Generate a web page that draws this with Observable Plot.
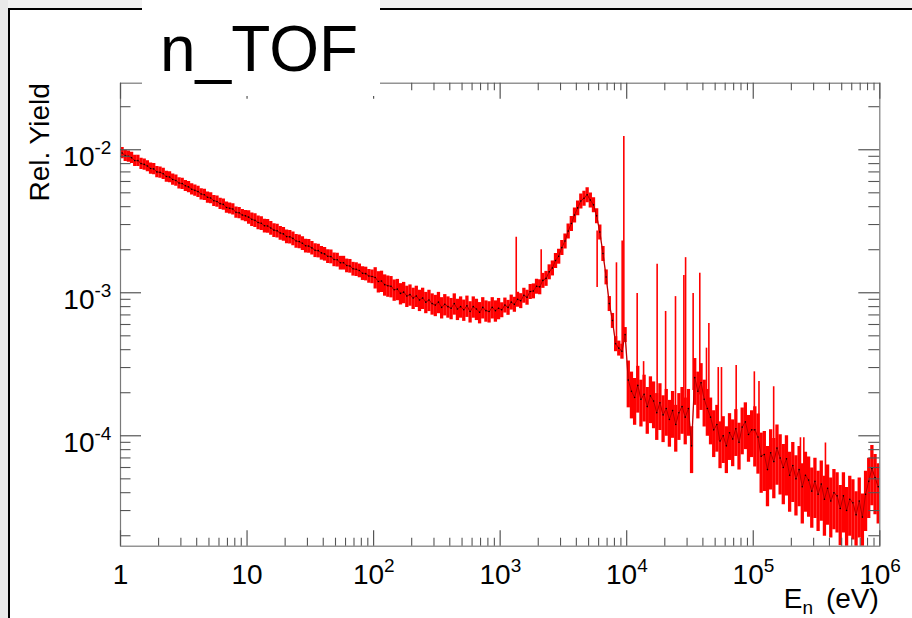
<!DOCTYPE html>
<html>
<head>
<meta charset="utf-8">
<script src="https://cdn.jsdelivr.net/npm/d3@7"></script>
<script src="https://cdn.jsdelivr.net/npm/@observablehq/plot@0.6"></script>
<style>
  html, body { margin: 0; padding: 0; background: #fff; }
  #wrap { position: relative; width: 912px; height: 618px; overflow: hidden; background: #fff;
          font-family: "Liberation Sans", Arial, Helvetica, sans-serif; }
  #topStrip { position: absolute; left: 0; top: 0; width: 912px; height: 8px; background: #f2f2f2; }
  #leftStrip { position: absolute; left: 0; top: 0; width: 8px; height: 618px; background: #e9e9e9; }
  #topLine { position: absolute; left: 8px; top: 8px; width: 904px; height: 2px; background: #000; }
  #leftLine { position: absolute; left: 8px; top: 8px; width: 2px; height: 610px; background: #000; }
  #chart { position: absolute; left: 0; top: 0; }
  #title { position: absolute; left: 0; top: 0; }
</style>
</head>
<body>
<div id="wrap">
  <div id="topStrip"></div>
  <div id="leftStrip"></div>
  <div id="topLine"></div>
  <div id="leftLine"></div>
  <div id="chart"></div>
  <div id="title"></div>
</div>
<script>
// ---- histogram binning: 40 log-uniform bins per decade, 1 eV .. 1 MeV ----
const binsPerDecade = 40;

// Relative yield per bin, one array per decade
const yieldDec0 = [9.5e-3, 9.1e-3, 9.0e-3, 8.8e-3, 8.4e-3, 8.4e-3, 8.0e-3, 7.9e-3, 7.7e-3, 7.4e-3,
  7.35e-3, 7.0e-3, 6.95e-3, 6.8e-3, 6.5e-3, 6.45e-3, 6.2e-3, 6.1e-3, 5.85e-3, 5.8e-3,
  5.6e-3, 5.5e-3, 5.3e-3, 5.2e-3, 5.1e-3, 4.9e-3, 4.85e-3, 4.65e-3, 4.6e-3, 4.4e-3,
  4.35e-3, 4.2e-3, 4.15e-3, 3.95e-3, 3.9e-3, 3.85e-3, 3.65e-3, 3.62e-3, 3.5e-3, 3.45e-3];
const yieldDec1 = [3.38e-3, 3.26e-3, 3.21e-3, 3.10e-3, 3.06e-3, 2.94e-3, 2.93e-3, 2.84e-3, 2.74e-3, 2.71e-3,
  2.62e-3, 2.58e-3, 2.47e-3, 2.46e-3, 2.40e-3, 2.30e-3, 2.28e-3, 2.22e-3, 2.13e-3, 2.12e-3,
  2.06e-3, 1.98e-3, 1.97e-3, 1.90e-3, 1.87e-3, 1.80e-3, 1.79e-3, 1.71e-3, 1.70e-3, 1.62e-3,
  1.62e-3, 1.55e-3, 1.54e-3, 1.47e-3, 1.46e-3, 1.43e-3, 1.37e-3, 1.36e-3, 1.31e-3, 1.30e-3];
const yieldDec2 = [1.28e-3, 1.20e-3, 1.21e-3, 1.14e-3, 1.12e-3, 1.11e-3, 1.05e-3, 1.06e-3, 9.9e-4, 1.01e-3,
  9.5e-4, 9.7e-4, 9.2e-4, 9.5e-4, 8.9e-4, 9.2e-4, 8.6e-4, 8.9e-4, 8.4e-4, 8.2e-4,
  8.6e-4, 7.9e-4, 8.3e-4, 8.0e-4, 7.8e-4, 8.4e-4, 7.7e-4, 8.0e-4, 7.6e-4, 8.1e-4,
  7.4e-4, 8.0e-4, 7.7e-4, 7.3e-4, 7.9e-4, 7.5e-4, 7.4e-4, 7.9e-4, 7.5e-4, 7.8e-4];
const yieldDec3 = [7.6e-4, 8.2e-4, 7.9e-4, 8.6e-4, 8.3e-4, 9.0e-4, 8.8e-4, 9.6e-4, 9.3e-4, 1.02e-3,
  1.03e-3, 1.11e-3, 1.10e-3, 1.22e-3, 1.26e-3, 1.40e-3, 1.49e-3, 1.68e-3, 1.80e-3, 2.07e-3,
  2.30e-3, 2.70e-3, 3.05e-3, 3.50e-3, 3.92e-3, 4.38e-3, 4.58e-3, 4.85e-3, 4.45e-3, 4.12e-3,
  3.45e-3, 2.66e-3, 1.88e-3, 1.29e-3, 8.4e-4, 6.4e-4, 4.4e-4, 4.1e-4, 3.9e-4, 5.1e-4];
const yieldDec4 = [2.45e-4, 2.05e-4, 1.85e-4, 2.25e-4, 1.80e-4, 1.95e-4, 1.60e-4, 1.90e-4, 1.75e-4, 1.45e-4,
  1.70e-4, 1.40e-4, 1.55e-4, 1.30e-4, 1.50e-4, 1.20e-4, 1.45e-4, 1.60e-4, 1.35e-4, 1.55e-4,
  8.5e-5, 2.55e-4, 2.05e-4, 2.35e-4, 1.80e-4, 1.55e-4, 1.35e-4, 1.10e-4, 1.20e-4, 9.2e-5,
  1.00e-4, 8.5e-5, 1.05e-4, 9.5e-5, 1.12e-4, 9.0e-5, 1.15e-4, 1.25e-4, 1.02e-4, 1.10e-4];
const yieldDec5 = [1.10e-4, 9.8e-5, 7.2e-5, 7.4e-5, 5.8e-5, 7.6e-5, 6.6e-5, 8.2e-5, 7.0e-5, 6.0e-5,
  6.9e-5, 5.3e-5, 6.2e-5, 5.0e-5, 5.8e-5, 4.4e-5, 5.3e-5, 4.9e-5, 4.1e-5, 4.8e-5,
  3.9e-5, 4.6e-5, 3.6e-5, 4.3e-5, 3.5e-5, 4.0e-5, 3.8e-5, 3.1e-5, 3.8e-5, 3.0e-5,
  3.6e-5, 3.4e-5, 2.8e-5, 3.5e-5, 2.7e-5, 3.9e-5, 4.8e-5, 5.9e-5, 5.1e-5, 4.4e-5];
// relative statistical error per decade
const relErr = [0.09, 0.11, 0.17, 0.12, 0.36, 0.45];

// narrow resonances (energy in eV, yield at foot, yield at tip)
const spikeE    = [1340, 2110, 5840, 8300, 9210, 9490, 12100, 13600, 17400, 20300, 24300, 28300, 29200,
  33500, 37800, 42700, 44600, 52900, 56100, 73300, 102000, 111000, 145000, 236000, 251000, 372000];
const spikeBase = [8.8e-4, 1.16e-3, 2.7e-3, 4.0e-4, 4.3e-4, 4.6e-4, 2.0e-4, 1.8e-4, 1.65e-4, 1.5e-4, 1.37e-4, 1.47e-4, 1.47e-4,
  2.07e-4, 1.93e-4, 1.65e-4, 1.4e-4, 9.2e-5, 9.2e-5, 1.0e-4, 1.04e-4, 8.5e-5, 7.3e-5, 4.9e-5, 4.9e-5, 3.9e-5];
const spikePeak = [2.44e-3, 2.0e-3, 1.09e-3, 1.62e-3, 2.3e-3, 1.24e-2, 9.9e-4, 3.3e-4, 1.58e-3, 7.4e-4, 9.4e-4, 1.32e-3, 1.76e-3,
  9.9e-4, 1.37e-3, 4.1e-4, 6.1e-4, 3.0e-4, 3.0e-4, 3.1e-4, 2.8e-4, 2.4e-4, 2.2e-4, 9.7e-5, 9.7e-5, 8.9e-5];

// axes
const xDomain = [1, 1e6];
const yDomain = [1.69e-5, 2.92e-2];
const xPlainTicks = [1, 10];
const xPlainLabels = ["1", "10"];
const xPowTicks = [1e2, 1e3, 1e4, 1e5, 1e6];
const xPowExps = ["2", "3", "4", "5", "6"];
const yPowTicks = [1e-4, 1e-3, 1e-2];
const yPowExps = ["-4", "-3", "-2"];
const titleText = "n_TOF";
const yTitle = "Rel. Yield";

// ---- build table ----
const decades = [yieldDec0, yieldDec1, yieldDec2, yieldDec3, yieldDec4, yieldDec5];
const bins = decades.flatMap((arr, d) => arr.map((v, j) => ({
  E: 10 ** (d + (j + 0.5) / binsPerDecade),
  v, lo: v * (1 - relErr[d]), hi: v * (1 + relErr[d])
})));
const spikes = spikeE.map((E, i) => ({E, y1: spikeBase[i], y2: spikePeak[i]}));

const xMajor = [...xPlainTicks, ...xPowTicks];
const isPow10 = t => Math.abs(Math.log10(t) - Math.round(Math.log10(t))) < 1e-9;
const xMinor = d3.scaleLog().domain(xDomain).ticks().filter(t => !isPow10(t));
const yMinor = d3.scaleLog().domain(yDomain).ticks().filter(t => !isPow10(t) && t >= yDomain[0] && t <= yDomain[1]);

const W = 912, H = 618;
const mL = 120, mR = 32.7, mT = 82.7, mB = 72.3;
const fh = H - mT - mB, fw = W - mL - mR;
const font = "'Liberation Sans', Arial, Helvetica, sans-serif";
const tickColor = "#555";

const chart = Plot.plot({
  width: W, height: H,
  marginLeft: mL, marginRight: mR, marginTop: mT, marginBottom: mB,
  x: {type: "log", domain: xDomain, axis: null},
  y: {type: "log", domain: yDomain, axis: null},
  style: {background: "transparent", fontFamily: font, overflow: "visible", color: "#000"},
  marks: [
    // data: error bars, connecting line, resonances, markers
    Plot.ruleX(bins, {x: "E", y1: "lo", y2: "hi", stroke: "#ff0000", strokeWidth: 3.3, clip: true}),
    Plot.line(bins, {x: "E", y: "v", stroke: "#ff0000", strokeWidth: 1.3, clip: true}),
    Plot.ruleX(spikes, {x: "E", y1: "y1", y2: "y2", stroke: "#ff0000", strokeWidth: 1.6, clip: true}),
    Plot.line(bins, {x: "E", y: "v", stroke: "#000", strokeWidth: 0.5, strokeOpacity: 0.6, clip: true}),
    Plot.dot(bins, {x: "E", y: "v", r: 0.8, fill: "#000", stroke: null, clip: true}),
    // frame
    Plot.frame({stroke: "#7a7a7a", strokeWidth: 1.2}),
    // x ticks bottom & top
    Plot.tickX(xMajor, {x: d => d, insetTop: fh - 15.5, stroke: tickColor, strokeWidth: 1.2}),
    Plot.tickX(xMinor, {x: d => d, insetTop: fh - 8, stroke: tickColor, strokeWidth: 1.1}),
    Plot.tickX(xMajor, {x: d => d, insetBottom: fh - 16, stroke: tickColor, strokeWidth: 1.2}),
    Plot.tickX(xMinor, {x: d => d, insetBottom: fh - 7.5, stroke: tickColor, strokeWidth: 1.1}),
    // y ticks left & right
    Plot.tickY(yPowTicks, {y: d => d, insetRight: fw - 21, stroke: tickColor, strokeWidth: 1.2}),
    Plot.tickY(yMinor, {y: d => d, insetRight: fw - 10.5, stroke: tickColor, strokeWidth: 1.1}),
    Plot.tickY(yPowTicks, {y: d => d, insetLeft: fw - 21, stroke: tickColor, strokeWidth: 1.2}),
    Plot.tickY(yMinor, {y: d => d, insetLeft: fw - 11, stroke: tickColor, strokeWidth: 1.1}),
    // x labels
    Plot.text(xPlainTicks, {x: d => d, text: (d, i) => xPlainLabels[i], frameAnchor: "bottom",
      lineAnchor: "bottom", dy: 37.6, fontSize: 28, textAnchor: "middle", fill: "#000"}),
    Plot.text(xPowTicks, {x: d => d, text: () => "10", frameAnchor: "bottom",
      lineAnchor: "bottom", dy: 37.6, dx: 10.5, fontSize: 28, textAnchor: "end", fill: "#000"}),
    Plot.text(xPowTicks, {x: d => d, text: (d, i) => xPowExps[i], frameAnchor: "bottom",
      lineAnchor: "bottom", dy: 26, dx: 10.5, fontSize: 19, textAnchor: "start", fill: "#000"}),
    // y labels
    Plot.text(yPowTicks, {y: d => d, text: () => "10", frameAnchor: "left",
      lineAnchor: "bottom", dy: 16.4, dx: -26, fontSize: 28, textAnchor: "end", fill: "#000"}),
    Plot.text(yPowTicks, {y: d => d, text: (d, i) => yPowExps[i], frameAnchor: "left",
      lineAnchor: "bottom", dy: 4.7, dx: -26, fontSize: 19, textAnchor: "start", fill: "#000"}),
    // axis titles
    Plot.text([yTitle], {text: d => d, frameAnchor: "top-left", rotate: -90, textAnchor: "end",
      lineAnchor: "bottom", dx: -72, dy: 0, fontSize: 28, fill: "#000"}),
    Plot.text(["E"], {text: d => d, frameAnchor: "bottom-right", textAnchor: "end",
      lineAnchor: "bottom", dx: -77.3, dy: 61.5, fontSize: 28, fill: "#000"}),
    Plot.text(["n"], {text: d => d, frameAnchor: "bottom-right", textAnchor: "start",
      lineAnchor: "bottom", dx: -77.3, dy: 67.8, fontSize: 19, fill: "#000"}),
    Plot.text(["(eV)"], {text: d => d, frameAnchor: "bottom-right", textAnchor: "end",
      lineAnchor: "bottom", dx: -1, dy: 61.5, fontSize: 28, fill: "#000"})
  ]
});
document.getElementById("chart").appendChild(chart);

// title box (ROOT title pave), drawn above the frame
const tsvg = d3.select("#title").append("svg")
  .attr("width", W).attr("height", 100).style("display", "block").style("overflow", "visible");
tsvg.append("rect").attr("x", 142).attr("y", 0).attr("width", 238).attr("height", 96).attr("fill", "#fff");
tsvg.append("text").attr("x", 160).attr("y", 71).attr("font-size", 64)
  .attr("font-family", font).attr("fill", "#000").text(titleText);
</script>
</body>
</html>
